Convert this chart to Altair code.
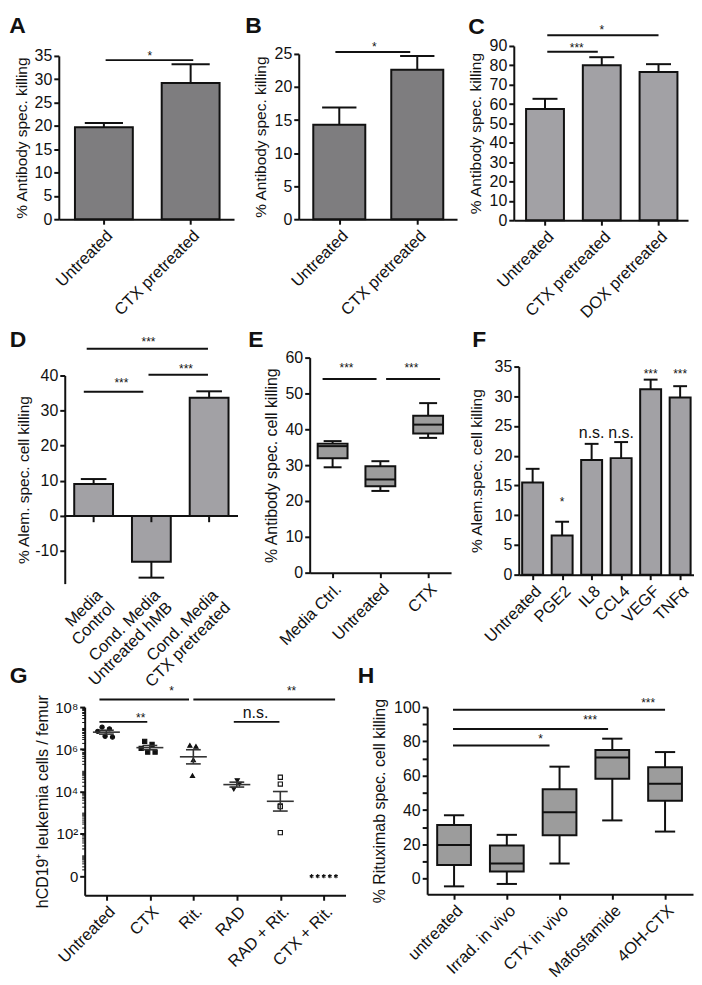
import json
import math
import altair as alt
import pandas as pd

FONT = "Liberation Sans"
BLACK = "#111111"
BAR_DARK = "#7e7d7f"
BAR_LIGHT = "#a2a1a5"
BOX_FILL = "#9c9c9c"

# ---------------- data ----------------
A_cats = ["Untreated", "CTX pretreated"]
A_mean = [19.7, 29.2]
A_err = [0.9, 4.0]
A_sig = [(0.02, 1.03, 34.1, 0.53, 35.6, "*")]

B_cats = ["Untreated", "CTX pretreated"]
B_mean = [14.3, 22.6]
B_err = [2.6, 2.1]
B_sig = [(-0.05, 0.91, 25.3, 0.45, 26.5, "*")]

C_cats = ["Untreated", "CTX pretreated", "DOX  pretreated"]
C_mean = [57.4, 80.1, 76.6]
C_err = [5.3, 4.1, 4.0]
C_sig = [(0.04, 0.93, 87.0, 0.56, 90.7, "***"),
         (0.04, 2.0, 95.5, 1.0, 99.8, "*")]

D_cats = ["Media|Control", "Cond. Media|Untreated hMB", "Cond. Media|CTX pretreated"]
D_mean = [9.1, -13.1, 33.7]
D_err = [1.4, 4.5, 1.8]
D_sig = [(-0.17, 0.86, 35.4, 0.48, 38.6, "***"),
         (0.95, 1.98, 40.2, 1.6, 42.6, "***"),
         (-0.12, 1.98, 47.6, 0.95, 50.4, "***")]

E_cats = ["Media Ctrl.", "Untreated", "CTX"]
E_lo = [29.4, 22.8, 37.6]
E_q1 = [31.9, 24.1, 38.8]
E_med = [35.3, 26.0, 41.3]
E_q3 = [36.0, 29.7, 43.8]
E_hi = [36.7, 31.1, 47.3]
E_sig = [(-0.21, 0.92, 54.0, 0.29, 58.0, "***"),
         (1.12, 2.25, 54.0, 1.65, 58.0, "***")]

F_cats = ["Untreated", "PGE2", "IL8", "CCL4", "VEGF", "TNFα"]
F_mean = [15.5, 6.6, 19.3, 19.6, 31.2, 29.8]
F_err = [2.3, 2.3, 2.7, 2.7, 1.6, 1.9]
F_sig = [(None, None, None, 1, 12.7, "*"),
         (None, None, None, 2, 23.8, "n.s."),
         (None, None, None, 3, 23.8, "n.s."),
         (None, None, None, 4, 34.3, "***"),
         (None, None, None, 5, 34.3, "***")]

G_cats = ["Untreated", "CTX", "Rit.", "RAD", "RAD + Rit.", "CTX + Rit."]
G_group = [0] * 5 + [1] * 5 + [2] * 4 + [3] * 3 + [4] * 5 + [5] * 5
G_log10 = [7.05, 6.97, 6.85, 6.62, 6.58,
           6.38, 6.24, 6.05, 5.87, 5.87,
           6.19, 6.14, 5.50, 4.76,
           4.52, 4.36, 4.12,
           4.68, 4.36, 3.33, 3.29, 2.06,
           0, 0, 0, 0, 0]
G_jitter = [-0.10, 0.07, -0.20, -0.03, 0.14,
            -0.12, 0.05, -0.20, -0.05, 0.12,
            -0.08, 0.06, 0.00, -0.02,
            0.01, 0.06, -0.07,
            0, 0, 0, 0, 0,
            -0.28, -0.14, 0, 0.14, 0.28]
G_sig = [(-0.16, 1.90, 8.36, 1.50, 8.89, "*"),
         (2.00, 5.26, 8.36, 4.26, 8.89, "**"),
         (-0.16, 0.94, 7.30, 0.79, 7.62, "**"),
         (2.93, 3.98, 7.30, 3.43, 7.73, "n.s.")]

H_cats = ["untreated", "Irrad. in vivo", "CTX in vivo", "Mafosfamide", "4OH-CTX"]
H_lo = [-4.4, -3.0, 8.9, 34.0, 27.5]
H_q1 = [8.0, 4.2, 25.4, 58.3, 45.4]
H_med = [19.7, 8.9, 38.7, 70.6, 55.4]
H_q3 = [31.3, 19.4, 52.2, 75.0, 64.9]
H_hi = [37.0, 25.6, 65.3, 81.6, 73.8]
H_sig = [(-0.02, 1.81, 77.6, 1.64, 82.9, "*"),
         (-0.02, 2.92, 87.3, 2.58, 94.0, "***"),
         (-0.02, 4.00, 98.5, 3.68, 104.0, "***")]

XFONT = 16.5
YFONT = 16
HYPHEN_LABEL = "datum.value < 0 ? '-' + (-datum.value) : datum.label"


# ---------------- helpers ----------------
def x_axis(cats, multiline=False, font=XFONT, pad=3, ticks=True, domain=True):
    arr = json.dumps(cats, ensure_ascii=False)
    expr = f"{arr}[datum.value]"
    if multiline:
        expr = f"split({arr}[datum.value], '|')"
    return alt.Axis(values=list(range(len(cats))), labelExpr=expr, labelAngle=-45,
                    labelAlign="right", labelBaseline="top", labelFontSize=font,
                    labelPadding=pad, title=None, ticks=ticks, domain=domain,
                    labelOverlap=False, labelFlush=False, labelBound=False,
                    labelLineHeight=font + 1)


def y_axis(title, values, font=YFONT, title_font=15.5, title_pad=6, label_expr=None):
    kw = dict(values=values, title=title, labelFontSize=font, titleFontSize=title_font,
              titlePadding=title_pad, labelOverlap=False, labelFlush=False, labelPadding=2)
    if label_expr:
        kw["labelExpr"] = label_expr
    return alt.Axis(**kw)


def sig_layers(sig, xs, ys, xax, yax, star_size=12, word_size=16):
    sdf = pd.DataFrame(sig, columns=["x1", "x2", "ly", "tx", "ty", "lab"])
    layers = []
    ldf = sdf.dropna(subset=["x1"])
    if len(ldf):
        layers.append(alt.Chart(ldf).mark_rule(color=BLACK, strokeWidth=2).encode(
            x=alt.X("x1:Q", scale=xs, axis=xax), x2="x2:Q",
            y=alt.Y("ly:Q", scale=ys, axis=yax)))
    star = sdf[sdf["lab"].str.contains(r"\*")]
    word = sdf[~sdf["lab"].str.contains(r"\*")]
    if len(star):
        layers.append(alt.Chart(star).mark_text(font=FONT, fontSize=star_size, fill=BLACK,
                                                baseline="middle", dy=3).encode(
            x=alt.X("tx:Q", scale=xs, axis=xax), y=alt.Y("ty:Q", scale=ys, axis=yax),
            text="lab:N"))
    if len(word):
        layers.append(alt.Chart(word).mark_text(font=FONT, fontSize=word_size, fill=BLACK,
                                                baseline="middle").encode(
            x=alt.X("tx:Q", scale=xs, axis=xax), y=alt.Y("ty:Q", scale=ys, axis=yax),
            text="lab:N"))
    return layers


def bar_panel(letter, cats, means, errs, sig, xdom, ydom, yvals, ytitle, color,
              width, height, title_dx, title_off, bw=0.667, multiline=False,
              zero_axis=False, ytitle_size=15.5, title_pad=6, label_expr=None):
    n = len(cats)
    df = pd.DataFrame({"idx": list(range(n)), "mean": means, "err": errs})
    xs = alt.Scale(domain=xdom, nice=False, zero=False)
    ys = alt.Scale(domain=ydom, nice=False, zero=False)
    xax = x_axis(cats, multiline, ticks=not zero_axis, domain=not zero_axis)
    yax = y_axis(ytitle, yvals, title_font=ytitle_size, title_pad=title_pad,
                 label_expr=label_expr)
    base = alt.Chart(df).transform_calculate(
        x1=f"datum.idx - {bw / 2}", x2=f"datum.idx + {bw / 2}",
        c1=f"datum.idx - {bw * 0.33}", c2=f"datum.idx + {bw * 0.33}",
        end="datum.mean + (datum.mean >= 0 ? datum.err : -datum.err)")
    bars = base.mark_bar(fill=color, stroke=BLACK, strokeWidth=2).encode(
        x=alt.X("x1:Q", scale=xs, axis=xax), x2="x2:Q",
        y=alt.Y("mean:Q", scale=ys, axis=yax), y2=alt.datum(0))
    err = base.mark_rule(color=BLACK, strokeWidth=2).encode(
        x=alt.X("idx:Q", scale=xs, axis=xax), y=alt.Y("mean:Q", scale=ys, axis=yax),
        y2="end:Q")
    cap = base.mark_rule(color=BLACK, strokeWidth=2).encode(
        x=alt.X("c1:Q", scale=xs, axis=xax), x2="c2:Q",
        y=alt.Y("end:Q", scale=ys, axis=yax))
    layers = [bars, err, cap]
    if zero_axis:
        layers.append(alt.Chart(df).mark_rule(color=BLACK, strokeWidth=2).encode(
            x=alt.value(0), x2=alt.value(width), y=alt.Y(datum=0, scale=ys, axis=yax)))
        layers.append(base.mark_rule(color=BLACK, strokeWidth=2).encode(
            x=alt.X("idx:Q", scale=xs, axis=xax), y=alt.Y(datum=0, scale=ys, axis=yax),
            y2=alt.datum(-1.8)))
    layers += sig_layers(sig, xs, ys, xax, yax)
    return alt.layer(*layers).properties(
        width=width, height=height,
        title=alt.TitleParams(text=letter, dx=title_dx, offset=title_off))


def box_panel(letter, cats, lo, q1, med, q3, hi, sig, xdom, ydom, yvals, ytitle,
              width, height, title_dx, title_off, bw=0.63, label_expr=None,
              ytitle_size=16, title_pad=6):
    n = len(cats)
    df = pd.DataFrame({"idx": list(range(n)), "lo": lo, "q1": q1, "med": med,
                       "q3": q3, "hi": hi})
    xs = alt.Scale(domain=xdom, nice=False, zero=False)
    ys = alt.Scale(domain=ydom, nice=False, zero=False)
    xax = x_axis(cats)
    yax = y_axis(ytitle, yvals, label_expr=label_expr, title_font=ytitle_size,
                 title_pad=title_pad)
    base = alt.Chart(df).transform_calculate(
        x1=f"datum.idx - {bw / 2}", x2=f"datum.idx + {bw / 2}",
        c1=f"datum.idx - {bw * 0.3}", c2=f"datum.idx + {bw * 0.3}")
    whisk = base.mark_rule(color=BLACK, strokeWidth=2).encode(
        x=alt.X("idx:Q", scale=xs, axis=xax),
        y=alt.Y("lo:Q", scale=ys, axis=yax), y2="hi:Q")
    box = base.mark_bar(fill=BOX_FILL, stroke=BLACK, strokeWidth=2).encode(
        x=alt.X("x1:Q", scale=xs, axis=xax), x2="x2:Q",
        y=alt.Y("q1:Q", scale=ys, axis=yax), y2="q3:Q")
    medl = base.mark_rule(color=BLACK, strokeWidth=2).encode(
        x=alt.X("x1:Q", scale=xs, axis=xax), x2="x2:Q",
        y=alt.Y("med:Q", scale=ys, axis=yax))
    cap_lo = base.mark_rule(color=BLACK, strokeWidth=2).encode(
        x=alt.X("c1:Q", scale=xs, axis=xax), x2="c2:Q",
        y=alt.Y("lo:Q", scale=ys, axis=yax))
    cap_hi = base.mark_rule(color=BLACK, strokeWidth=2).encode(
        x=alt.X("c1:Q", scale=xs, axis=xax), x2="c2:Q",
        y=alt.Y("hi:Q", scale=ys, axis=yax))
    layers = [whisk, box, medl, cap_lo, cap_hi] + sig_layers(sig, xs, ys, xax, yax)
    return alt.layer(*layers).properties(
        width=width, height=height,
        title=alt.TitleParams(text=letter, dx=title_dx, offset=title_off))


# ---------------- panels ----------------
A = bar_panel("A", A_cats, A_mean, A_err, A_sig, [-0.52, 1.5], [0, 35],
              list(range(0, 36, 5)), "% Antibody spec. killing", BAR_DARK,
              176, 164, -5, 10, title_pad=5)
B = bar_panel("B", B_cats, B_mean, B_err, B_sig, [-0.52, 1.51], [0, 25],
              list(range(0, 26, 5)), "% Antibody spec. killing", BAR_DARK,
              159, 166, -8, 3)
C = bar_panel("C", C_cats, C_mean, C_err, C_sig, [-0.55, 2.52], [0, 90],
              list(range(0, 91, 10)), "% Antibody spec. killing", BAR_LIGHT,
              175, 175, 0, -15)
D = bar_panel("D", D_cats, D_mean, D_err, D_sig, [-0.5, 2.5], [-19.3, 40],
              [-10, 0, 10, 20, 30, 40], "% Alem. spec. cell killing", BAR_LIGHT,
              174, 209, -7, -16, bw=0.672, multiline=True, zero_axis=True,
              title_pad=3, label_expr=HYPHEN_LABEL)
E = box_panel("E", E_cats, E_lo, E_q1, E_med, E_q3, E_hi, E_sig, [-0.48, 2.48],
              [0, 60], list(range(0, 61, 10)), "% Antibody spec. cell killing",
              142, 216, -15, -2, bw=0.625)
F = bar_panel("F", F_cats, F_mean, F_err, F_sig, [-0.47, 5.47], [0, 35],
              list(range(0, 36, 5)), "% Alem.spec. cell killing", BAR_LIGHT,
              176, 209, 3, 7, bw=0.71, title_pad=10)

# --- G: scatter with mean +/- SEM on log axis ---
g_df = pd.DataFrame({"idx": G_group, "lv": G_log10, "jit": G_jitter,
                     "grp": [G_cats[i] for i in G_group]})
g_xs = alt.Scale(domain=[-0.5, 5.5], nice=False, zero=False)
g_ys = alt.Scale(domain=[-0.9, 8], nice=False, zero=False)
g_xax = x_axis(G_cats)
sup = json.dumps(["⁰", "¹", "²", "³", "⁴", "⁵", "⁶", "⁷", "⁸"], ensure_ascii=False)
g_label = f"datum.value == 0 ? '0' : '10' + {sup}[datum.value]"
g_yax = alt.Axis(values=[0, 2, 4, 6, 8], labelExpr=g_label, orient="left",
                 title="hCD19⁺ leukemia cells / femur", titleFontSize=16,
                 labelFontSize=15, titlePadding=4, labelOverlap=False,
                 labelFlush=False, labelPadding=2)
minor = []
for dec in range(0, 8):
    for k in range(2, 10):
        minor.append(round(dec + math.log10(k), 4))
    if dec % 2 == 1:
        minor.append(dec)
g_minor_ax = alt.Axis(values=sorted(minor), labels=False, tickSize=3, tickWidth=1,
                      domain=False, title=None, orient="left", grid=False)
ASTER = "M0,-1L0,1M-0.87,-0.5L0.87,0.5M-0.87,0.5L0.87,-0.5"
g_points = alt.Chart(g_df).transform_calculate(xp="datum.idx + datum.jit").mark_point(
    stroke=BLACK, strokeWidth=1.1, opacity=1, fillOpacity=1).encode(
    x=alt.X("xp:Q", scale=g_xs, axis=g_xax),
    y=alt.Y("lv:Q", scale=g_ys, axis=g_yax),
    shape=alt.Shape("grp:N", scale=alt.Scale(
        domain=G_cats,
        range=["circle", "square", "triangle-up", "triangle-down", "square", ASTER]),
        legend=None),
    fill=alt.Fill("grp:N", scale=alt.Scale(
        domain=G_cats, range=[BLACK, BLACK, BLACK, BLACK, "white", "white"]),
        legend=None),
    size=alt.Size("grp:N", scale=alt.Scale(domain=G_cats, range=[18, 18, 16, 16, 18, 45]),
                  legend=None))
g_stats = alt.Chart(g_df).transform_filter(f"datum.idx < {len(G_cats) - 1}").transform_aggregate(
    m="mean(lv)", se="stderr(lv)", groupby=["idx"]).transform_calculate(
    m1="datum.idx - 0.31", m2="datum.idx + 0.31",
    s1="datum.idx - 0.17", s2="datum.idx + 0.17",
    lo="datum.m - datum.se", hi="datum.m + datum.se")
g_mean = g_stats.mark_rule(color="#333333", strokeWidth=1.6).encode(
    x=alt.X("m1:Q", scale=g_xs, axis=g_xax), x2="m2:Q",
    y=alt.Y("m:Q", scale=g_ys, axis=g_minor_ax))
g_vert = g_stats.mark_rule(color="#333333", strokeWidth=1.6).encode(
    x=alt.X("idx:Q", scale=g_xs, axis=g_xax), y=alt.Y("lo:Q", scale=g_ys, axis=None),
    y2="hi:Q")
g_caplo = g_stats.mark_rule(color="#333333", strokeWidth=1.6).encode(
    x=alt.X("s1:Q", scale=g_xs, axis=g_xax), x2="s2:Q",
    y=alt.Y("lo:Q", scale=g_ys, axis=None))
g_caphi = g_stats.mark_rule(color="#333333", strokeWidth=1.6).encode(
    x=alt.X("s1:Q", scale=g_xs, axis=g_xax), x2="s2:Q",
    y=alt.Y("hi:Q", scale=g_ys, axis=None))
G = alt.layer(g_points, g_mean, g_vert, g_caplo, g_caphi,
              *sig_layers(G_sig, g_xs, g_ys, g_xax, None)).resolve_axis(
    y="independent").properties(
    width=262, height=189, title=alt.TitleParams(text="G", dx=-25, offset=-3))

H = box_panel("H", H_cats, H_lo, H_q1, H_med, H_q3, H_hi, H_sig, [-0.51, 4.53],
              [-9, 100], list(range(0, 101, 10)), "% Rituximab spec. cell killing",
              267, 188, -14, 9, bw=0.64,
              label_expr="datum.value % 20 == 0 ? datum.label : ''")


# ---------------- layout ----------------
def spacer():
    return alt.Chart(pd.DataFrame({"v": [0]})).mark_rect(opacity=0).encode(
        x=alt.value(0), x2=alt.value(1), y=alt.value(0), y2=alt.value(1)).properties(
        width=1, height=1)


def cell(p):
    # a tiny spacer above each panel makes the row align panels by their outer top edge
    return alt.vconcat(spacer(), p, spacing=0)


def row(panels, gaps, top_align=True):
    # panels are chained right-to-left so that every gap can differ;
    # a tiny spacer at the left makes rows align by their outer left edge
    wrap = cell if top_align else (lambda p: p)
    chain = wrap(panels[-1])
    for p, g in zip(panels[-2::-1], gaps[::-1]):
        chain = alt.hconcat(wrap(p), chain, spacing=g)
    return alt.hconcat(spacer(), chain, spacing=0)


row1 = row([A, B, C], [11, 11])
row2 = row([D, E, F], [9, 18])
row3 = row([G, H], [12], top_align=False)
top = alt.vconcat(row1, row2, spacing=3)
chart = alt.vconcat(top, row3, spacing=-25).properties(
    padding={"top": 4, "left": 0, "right": 0, "bottom": 0}).configure_view(
    stroke=None).configure_axis(
    domainColor=BLACK, domainWidth=2, tickColor=BLACK, tickWidth=2, tickSize=5,
    labelColor=BLACK, titleColor=BLACK, labelFont=FONT, titleFont=FONT,
    titleFontWeight="normal", grid=False).configure_title(
    font=FONT, fontWeight="bold", fontSize=23, anchor="start", color=BLACK)

chart.save("out.html", embed_options={"renderer": "svg", "actions": False})
